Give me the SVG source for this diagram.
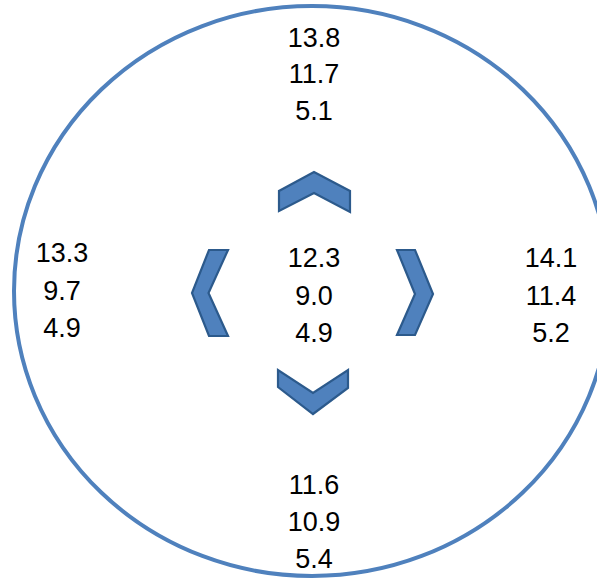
<svg xmlns="http://www.w3.org/2000/svg" width="597" height="578" viewBox="0 0 597 578">
<style>
.t{font-family:"Liberation Sans",Arial,sans-serif;font-size:27px;fill:#000;text-anchor:middle}
.ch{fill:#4F81BD;stroke:#2C5A8C;stroke-width:2.2;stroke-linejoin:miter}
</style>
<rect width="597" height="578" fill="#fff"/>
<g id="ring"><ellipse cx="312" cy="291" rx="298" ry="285" fill="none" stroke="#4F81BD" stroke-width="4"/></g>
<g id="arrows">
<polygon class="ch" points="279,211 279,191 314,172 350,191 350,212 314,193"/>
<polygon class="ch" points="278,370 278,387 313,414 348,388 348,370 313,393"/>
<polygon class="ch" points="228,250 209,250 192,293 209,336 228,336 208.5,293"/>
<polygon class="ch" points="397,250 415,250 433,294 415,335 397,335 415,294"/>
</g>
<g id="top"><text class="t" x="314" y="46.5">13.8</text><text class="t" x="314" y="83.2">11.7</text><text class="t" x="314" y="120">5.1</text></g>
<g id="left"><text class="t" x="62" y="262">13.3</text><text class="t" x="62" y="299.5">9.7</text><text class="t" x="62" y="337">4.9</text></g>
<g id="center"><text class="t" x="314" y="267">12.3</text><text class="t" x="314" y="304.5">9.0</text><text class="t" x="314" y="342">4.9</text></g>
<g id="right"><text class="t" x="551" y="267">14.1</text><text class="t" x="551" y="304.5">11.4</text><text class="t" x="551" y="342">5.2</text></g>
<g id="bottom"><text class="t" x="314" y="494">11.6</text><text class="t" x="314" y="531">10.9</text><text class="t" x="314" y="568">5.4</text></g>
</svg>
